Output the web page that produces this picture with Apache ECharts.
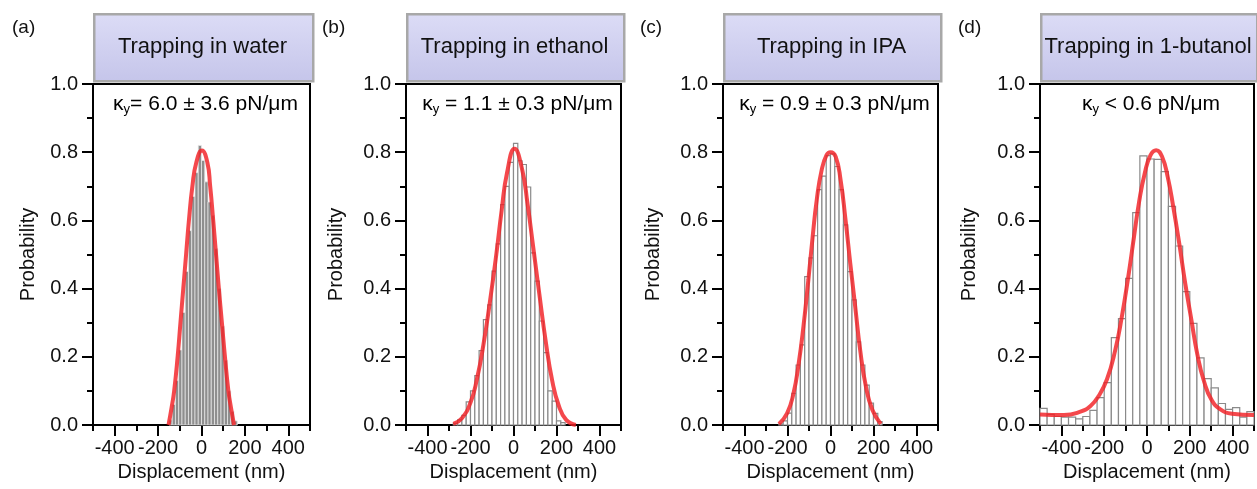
<!DOCTYPE html>
<html><head><meta charset="utf-8">
<script src="https://cdn.jsdelivr.net/npm/echarts@6/dist/echarts.min.js"></script>
<style>html,body{margin:0;padding:0;background:#fff}#c{width:1257px;height:489px}</style>
</head><body><div id="c"></div>
<script>
// ---------- data ----------
const panelLetters = ['(a)', '(b)', '(c)', '(d)'];
const panelTitles = ['Trapping in water', 'Trapping in ethanol', 'Trapping in IPA', 'Trapping in 1-butanol'];
const kappaTexts = ['= 6.0 ± 3.6 pN/μm', ' = 1.1 ± 0.3 pN/μm', ' = 0.9 ± 0.3 pN/μm', ' < 0.6 pN/μm'];
const xTickLabels = [-400, -200, 0, 200, 400];
const xMinorTicks = [-500, -300, -100, 100, 300, 500];
const yTickLabels = [0, 0.2, 0.4, 0.6, 0.8, 1.0];

// histograms: first bin start (nm), bin width (nm), bin heights
const binStartA = -150, binWidthA = 15;
const histA = [0.015, 0.06, 0.13, 0.22, 0.33, 0.45, 0.57, 0.67, 0.74, 0.82, 0.776,
               0.713, 0.654, 0.615, 0.517, 0.40, 0.29, 0.19, 0.10, 0.04, 0.012];
const binStartB = -280, binWidthB = 20;
const histB = [0.005, 0.015, 0.028, 0.068, 0.10, 0.145, 0.218, 0.309, 0.352, 0.451, 0.531,
               0.646, 0.70, 0.77, 0.826, 0.775, 0.764, 0.698, 0.505, 0.422, 0.305, 0.212,
               0.10, 0.07, 0.012, 0.007];
const binStartC = -240, binWidthC = 20;
const histC = [0.003, 0.012, 0.035, 0.093, 0.176, 0.235, 0.435, 0.49, 0.555, 0.69, 0.73,
               0.79, 0.795, 0.758, 0.69, 0.587, 0.45, 0.367, 0.244, 0.176, 0.117, 0.064,
               0.034, 0.01];
const binStartD = -500, binWidthD = 1000 / 30;
const histD = [0.049, 0.031, 0.025, 0.023, 0.023, 0.018, 0.025, 0.043, 0.080, 0.124,
               0.256, 0.312, 0.430, 0.623, 0.789, 0.780, 0.779, 0.743, 0.641, 0.525,
               0.391, 0.298, 0.197, 0.136, 0.109, 0.063, 0.046, 0.051, 0.023, 0.039];

// fit curves
const fitAx = [-152, -138, -126, -110, -97, -84, -71, -58, -42, -24, 2, 27, 40, 54, 67, 80, 94, 108, 124, 136, 150];
const fitAy = [0, 0.05, 0.10, 0.20, 0.30, 0.40, 0.50, 0.60, 0.70, 0.77, 0.805, 0.77, 0.70, 0.60, 0.50, 0.40, 0.30, 0.20, 0.10, 0.05, 0];
const fitBx = [-280, -240, -200, -170, -140, -110, -80, -55, -30, 5, 40, 65, 90, 120, 150, 180, 210, 245, 290];
const fitBy = [0.003, 0.02, 0.066, 0.135, 0.235, 0.36, 0.50, 0.63, 0.74, 0.81, 0.75, 0.65, 0.53, 0.385, 0.245, 0.13, 0.058, 0.015, 0];
const fitCx = [-240, -202, -172, -149, -126, -103, -83, -64, -41, -18, 0, 24, 47, 70, 92, 115, 138, 165, 195, 234];
const fitCy = [0.003, 0.034, 0.093, 0.176, 0.288, 0.425, 0.552, 0.66, 0.748, 0.792, 0.80, 0.787, 0.718, 0.601, 0.474, 0.347, 0.22, 0.112, 0.044, 0.003];
const fitDx = [-500, -388, -311, -264, -226, -187, -149, -118, -88, -61, -37, -11, 16, 43, 71, 97, 123, 151, 179, 208, 235, 266, 302, 343, 397, 500];
const fitDy = [0.031, 0.029, 0.039, 0.056, 0.085, 0.134, 0.218, 0.316, 0.433, 0.551, 0.654, 0.737, 0.791, 0.806, 0.786, 0.727, 0.639, 0.531, 0.414, 0.306, 0.208, 0.129, 0.073, 0.046, 0.033, 0.029];

// ---------- layout / style ----------
const FONT = "'Liberation Sans', Arial, sans-serif";
const TXT = '#111';
const grids = [
  {left: 93, width: 217, nameGap: 55, letterX: 12},
  {left: 406, width: 215, nameGap: 60, letterX: 322},
  {left: 723, width: 215, nameGap: 60, letterX: 640},
  {left: 1040, width: 214, nameGap: 61, letterX: 958}
];
const GTOP = 84, GH = 341;
const panels = [
  {start: binStartA, w: binWidthA, h: histA, fx: fitAx, fy: fitAy, fill: '#8e8e8e', stroke: 'rgba(235,235,235,0.9)', lw: 0.8},
  {start: binStartB, w: binWidthB, h: histB, fx: fitBx, fy: fitBy, fill: '#ffffff', stroke: '#8a8a8a', lw: 1.2},
  {start: binStartC, w: binWidthC, h: histC, fx: fitCx, fy: fitCy, fill: '#ffffff', stroke: '#8a8a8a', lw: 1.2},
  {start: binStartD, w: binWidthD, h: histD, fx: fitDx, fy: fitDy, fill: '#ffffff', stroke: '#8a8a8a', lw: 1.2}
];

const chart = echarts.init(document.getElementById('c'), null, {renderer: 'canvas'});
const blk = {color: '#000', width: 2};
const option = {
  animation: false,
  backgroundColor: '#fff',
  grid: grids.map(g => ({left: g.left, top: GTOP, width: g.width, height: GH, show: true,
    borderColor: '#000', borderWidth: 2, backgroundColor: 'transparent', containLabel: false})),
  xAxis: [], yAxis: [], series: [], graphic: []
};

grids.forEach((g, i) => {
  option.xAxis.push({
    type: 'value', gridIndex: i, min: -500, max: 500, interval: 100, position: 'bottom',
    axisLine: {show: true, onZero: false, lineStyle: blk},
    axisTick: {show: true, customValues: xTickLabels, length: 11, lineStyle: blk},
    axisLabel: {customValues: xTickLabels, margin: 13, fontSize: 20, fontFamily: FONT, color: TXT},
    splitLine: {show: false},
    name: 'Displacement (nm)', nameLocation: 'middle', nameGap: 36,
    nameTextStyle: {fontSize: 20, fontFamily: FONT, color: TXT}
  });
  option.xAxis.push({
    type: 'value', gridIndex: i, min: -500, max: 500, interval: 100, position: 'bottom', offset: 0,
    axisLine: {show: true, onZero: false, lineStyle: {color: 'rgba(0,0,0,0)', width: 1}},
    axisTick: {show: true, customValues: xMinorTicks, length: 6, lineStyle: blk},
    axisLabel: {show: false}, splitLine: {show: false}
  });
  option.yAxis.push({
    type: 'value', gridIndex: i, min: 0, max: 1, interval: 0.2,
    axisLine: {show: true, onZero: false, lineStyle: blk},
    axisTick: {show: true, length: 11, lineStyle: blk},
    minorTick: {show: true, splitNumber: 2, length: 6, lineStyle: blk},
    axisLabel: {customValues: yTickLabels, formatter: v => v.toFixed(1), margin: 15, fontSize: 20, fontFamily: FONT, color: TXT},
    splitLine: {show: false}, minorSplitLine: {show: false},
    name: 'Probability', nameLocation: 'middle', nameGap: g.nameGap,
    nameTextStyle: {fontSize: 20, fontFamily: FONT, color: TXT}
  });

  const p = panels[i];
  const data = p.h.map((v, k) => [p.start + k * p.w, p.start + (k + 1) * p.w, v]);
  option.series.push({
    type: 'custom', xAxisIndex: i * 2, yAxisIndex: i, data: data,
    encode: {x: [0, 1], y: 2}, z: 2,
    renderItem: (params, api) => {
      const a = api.coord([api.value(0), api.value(2)]);
      const b = api.coord([api.value(1), 0]);
      return {type: 'rect', shape: {x: a[0], y: a[1], width: b[0] - a[0], height: b[1] - a[1]},
        style: {fill: p.fill, stroke: p.stroke, lineWidth: p.lw}};
    }
  });
  option.series.push({
    type: 'line', xAxisIndex: i * 2, yAxisIndex: i, z: 3,
    data: p.fx.map((x, k) => [x, p.fy[k]]),
    smooth: 0.5, symbol: 'none',
    lineStyle: {color: 'rgba(242,32,36,0.82)', width: 4}
  });

  const cx = g.left + g.width / 2;
  // title box
  option.graphic.push({
    type: 'rect', left: g.left, top: 13, z: 10,
    shape: {width: g.width + 2, height: 67},
    style: {fill: new echarts.graphic.LinearGradient(0, 0, 0, 1, [
      {offset: 0, color: '#dcdcf6'}, {offset: 1, color: '#c5c5ea'}]),
      stroke: '#a8a8a8', lineWidth: 2.5}
  });
  option.graphic.push({
    type: 'text', x: cx + 1, y: 47, z: 11,
    style: {text: panelTitles[i], font: '22px ' + FONT, fill: '#111', align: 'center', verticalAlign: 'middle'}
  });
  // kappa annotation
  option.graphic.push({
    type: 'text', x: cx + 4, y: 104, z: 11,
    style: {
      text: '{k|κ}{s|y}{t|' + kappaTexts[i] + '}',
      align: 'center', verticalAlign: 'middle',
      rich: {
        k: {fontSize: 21, fontFamily: FONT, color: '#111', lineHeight: 26, verticalAlign: 'middle'},
        s: {fontSize: 13, fontFamily: FONT, color: '#111', lineHeight: 26, verticalAlign: 'bottom', padding: [0, 0, 1, 0]},
        t: {fontSize: 21, fontFamily: FONT, color: '#111', lineHeight: 26, verticalAlign: 'middle'}
      }
    }
  });
  // panel letter
  option.graphic.push({
    type: 'text', x: g.letterX, y: 28, z: 11,
    style: {text: panelLetters[i], font: '19px ' + FONT, fill: '#111', align: 'left', verticalAlign: 'middle'}
  });
});

chart.setOption(option);
</script></body></html>
